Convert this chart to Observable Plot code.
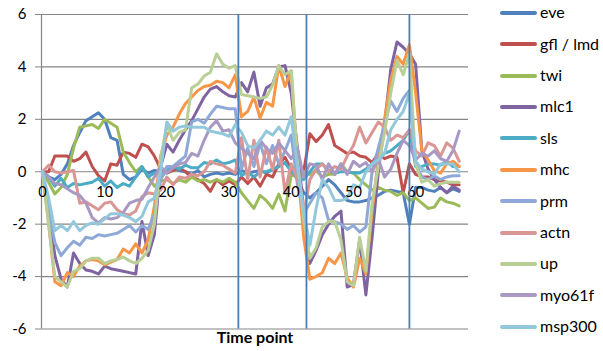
<!DOCTYPE html>
<html>
<head>
<meta charset="utf-8">
<script src="https://cdn.jsdelivr.net/npm/d3@7"></script>
<script src="https://cdn.jsdelivr.net/npm/@observablehq/plot@0.6"></script>
<style>
  html, body { margin: 0; padding: 0; background: #fff; }
  #wrap { position: relative; width: 603px; height: 351px; font-family: Lato, "Open Sans", sans-serif; }
  #legend { position: absolute; left: 0; top: 0; }
  .sw { position: absolute; left: 500px; width: 37px; height: 4px; border-radius: 2px; }
  .lt { position: absolute; left: 540px; font-size: 16px; line-height: 18px; color: #000; white-space: nowrap; }
</style>
</head>
<body>
<div id="wrap"><div id="legend"></div></div>
<script>
const seriesNames = ["eve", "gfl / lmd", "twi", "mlc1", "sls", "mhc", "prm", "actn", "up", "myo61f", "msp300"];
const seriesColors = ["#4F81BD", "#C0504D", "#9BBB59", "#8064A2", "#4BACC6", "#F79646", "#8EA9D8", "#D99694", "#B9CF96", "#A898C4", "#93C8DC"];

const timePoints = [0,1,2,3,4,5,6,7,8,9,10,11,12,13,14,15,16,17,18,19,20,21,22,23,24,25,26,27,28,29,30,31,32,33,34,35,36,37,38,39,40,41,42,43,44,45,46,47,48,49,50,51,52,53,54,55,56,57,58,59,60,61,62,63,64,65,66,67];
const xTickLabels = [0, 10, 20, 30, 40, 50, 60];
const yTicks = [-6, -4, -2, 0, 2, 4, 6];
const markerTimes = [31.5, 42.45, 59];

const eve = [0, -0.2, -0.3, -0.1, 0.3, 1.0, 1.5, 1.95, 2.1, 2.25, 2.0, 1.3, 1.2, -0.1, -0.3, -0.2, 0.1, -0.05, 0.05, 0.0,
 0.1, 0.15, 0.05, 0.0, -0.1, 0.05, -0.2, -0.1, -0.05, -0.1, -0.05, -0.1, 0.05, -0.05, 0.0, 0.05, -0.05, 0.1, 0.2, 0.35,
 0.1, -0.3, -0.8, -1.0, -0.8, -0.55, -0.3, -0.5, -0.8, -1.1, -1.15, -1.15, -1.1, -1.0, -0.9, -0.75, -0.7, -0.75, -0.8, -2.0,
 -0.6, -0.6, -0.7, -0.75, -0.6, -0.8, -0.65, -0.75];
const gflLmd = [0, 0.0, 0.6, 0.6, 0.6, 0.4, 0.5, 0.75, 0.2, -0.15, -0.35, 0.3, 0.25, 0.75, 0.7, 0.55, 1.05, 0.95, 0.6, 0.1,
 -0.05, 0.05, 0.15, 0.0, -0.2, -0.3, -0.45, -0.75, -0.3, -0.5, -0.35, -0.5, -0.2, -0.45, -0.2, -0.55, -0.1, -0.2, 0.3, 0.55,
 0.1, -0.1, 0.0, 1.45, 1.15, 1.4, 1.8, 1.0, 0.85, 0.7, 0.75, 0.6, 0.55, 0.35, 0.7, 0.5, 0.6, 0.55, -0.8, 0.3,
 -0.1, -0.2, -0.2, -0.3, -0.35, -0.4, -0.5, -0.5];
const twi = [0, -0.4, -0.85, -0.6, -0.1, 0.9, 1.7, 1.75, 1.8, 1.65, 2.0, 1.85, 1.7, 0.75, 0.35, 0.0, 0.2, -0.2, -0.55, -0.35,
 -0.3, -0.45, -0.3, -0.4, -0.2, -0.35, -0.3, -0.4, -0.3, -0.4, -0.25, -0.4, -0.8, -1.1, -1.4, -0.9, -1.1, -1.4, -0.85, -1.5,
 -0.1, -0.2, 0.0, -0.1, 0.05, -0.2, -0.1, -0.1, 0.3, 0.0, -0.05, -0.3, -0.5, -0.7, -0.6, -0.7, -0.75, -0.9, -0.8, -1.1,
 -1.0, -1.2, -1.4, -1.35, -1.0, -1.15, -1.2, -1.3];
const mlc1 = [0, -1.5, -3.2, -4.1, -4.4, -3.1, -3.5, -3.75, -3.8, -3.9, -3.6, -3.7, -3.75, -3.8, -3.85, -3.9, -1.9, -3.2, -2.4, 0.2,
 1.05, 0.75, 1.2, 1.6, 1.95, 2.4, 2.85, 3.15, 3.25, 3.05, 2.9, 2.85, 3.4, 3.05, 3.8, 2.5, 3.2, 3.35, 4.0, 4.05,
 3.0, 0.9, -1.5, -3.5, -3.0, -2.4, -2.0, -1.7, -1.5, -4.4, -4.3, -2.6, -4.7, -2.5, 0.0, 1.8, 3.9, 4.95, 4.75, 4.5,
 4.1, 0.8, 0.1, -0.3, -0.6, -0.8, -0.55, -0.7];
const sls = [0, -0.2, -0.55, -0.25, -0.6, -0.45, -0.5, -0.45, -0.4, -0.25, -0.55, -0.35, -0.6, -0.45, -0.55, -0.2, 0.2, -0.2, -0.05, -0.25,
 0.05, 0.2, 0.1, 0.25, 0.15, 0.15, 0.35, 0.3, 0.45, 0.3, 0.35, 0.45, -0.15, 0.0, -0.2, 0.0, 0.0, 0.1, 0.2, 0.35,
 0.0, -0.2, -0.3, 0.0, 0.3, 0.3, 0.05, -0.05, 0.0, 0.0, -0.05, -0.05, 0.1, 0.3, 0.55, 0.7, 0.8, 1.0, 1.2, 1.6,
 0.2, 0.2, 0.3, 0.3, 0.25, 0.4, 0.2, 0.2];
const mhc = [0, -2.0, -4.2, -4.35, -3.85, -4.0, -3.6, -3.4, -3.35, -3.4, -3.55, -3.45, -3.35, -2.95, -3.1, -2.75, -3.1, -2.6, -1.3, 0.6,
 1.4, 1.7, 2.2, 2.6, 2.85, 3.1, 3.25, 3.3, 3.45, 3.4, 3.2, 3.7, 2.1, 2.3, 2.85, 2.05, 2.65, 2.5, 4.05, 3.25,
 3.85, 0.3, -2.5, -4.1, -4.0, -3.85, -3.3, -3.5, -3.1, -4.05, -4.4, -3.3, -3.9, -1.5, 0.5, 2.0, 3.5, 4.4, 4.1, 4.85,
 3.0, 0.8, 0.45, 0.05, -0.05, 0.3, 0.4, 0.2];
const prm = [0, -1.5, -2.7, -3.2, -2.9, -2.65, -2.8, -2.5, -2.55, -2.4, -2.45, -2.4, -2.35, -2.2, -2.05, -2.3, -2.05, -2.2, -1.6, -0.3,
 0.2, 0.2, 0.4, 0.6, 1.9, 2.0, 1.85, 2.2, 2.5, 2.45, 2.4, 2.4, 0.1, 0.9, 0.2, 1.1, 0.3, 1.0, 0.3, 0.8,
 1.4, -0.5, -1.6, -1.2, -0.8, -1.0, -1.85, -1.9, -2.0, -2.2, -2.05, -2.3, -2.1, 0.0, 0.9, 1.8, 2.7, 2.3, 2.8, 3.1,
 0.3, -0.2, -0.3, -0.15, -0.3, -0.2, -0.15, -0.15];
const actn = [0, 0.25, 0.0, -0.05, 0.0, 0.05, -1.2, -1.15, -1.3, -1.45, -1.2, -1.15, -1.45, -1.6, -1.65, -1.5, -0.95, -0.8, -0.85, -0.7,
 -0.2, -0.5, -0.2, -0.25, -0.1, -0.15, 0.0, 0.4, 0.3, 0.25, 0.1, -0.05, 1.3, -0.3, 1.2, -0.2, 0.95, 0.1, 1.2, -0.8,
 0.3, -0.3, -1.6, -0.3, 0.1, 0.3, 0.0, 0.2, 0.1, 0.6, 1.0, 1.7, 1.1, 1.5, 1.9, 1.7, 1.2, 1.4, 1.3, 1.6,
 0.8, 0.6, 1.1, 1.0, 0.6, 1.1, 0.9, 0.4];
const up = [0, -2.0, -4.0, -4.2, -4.4, -3.8, -3.7, -3.4, -3.3, -3.3, -3.5, -3.4, -3.35, -3.25, -3.4, -3.5, -3.3, -3.0, -2.0, 0.5,
 1.8, 1.2, 1.5, 1.6, 3.2, 3.35, 3.65, 3.8, 4.5, 4.1, 3.95, 4.05, 2.95, 2.9, 2.85, 2.8, 2.85, 3.3, 4.05, 3.7,
 3.85, 0.5, -1.8, -3.3, -2.9, -2.1, -1.9, -1.9, -2.6, -4.2, -4.35, -2.5, -3.8, -1.2, 0.2, 1.5, 3.0, 4.25, 3.7, 4.5,
 0.3, -0.4, -0.3, -0.55, -0.45, -0.4, -0.4, -0.4];
const myo61f = [0, -0.2, -0.45, -0.5, -0.65, -0.8, -0.9, -1.2, -1.75, -1.95, -1.75, -1.8, -1.75, -1.55, -1.2, -1.1, -1.05, -0.6, -0.2, 0.2,
 -0.05, 0.15, 0.3, 0.35, 0.7, 0.6, 1.2, 1.7, 1.95, 1.55, 1.6, 1.1, 0.9, 0.7, 0.5, 1.2, 0.9, 0.7, 1.1, 0.8,
 0.5, 0.9, -0.2, 0.3, 0.25, -0.3, 0.3, -0.1, 0.3, -0.1, 0.4, 0.2, 0.35, 0.0, 0.5, -0.2, 0.1, 0.7, 1.2, 1.0,
 0.45, 0.7, 0.6, 0.8, 0.5, 0.4, 0.8, 1.55];
const msp300 = [0, -1.0, -2.25, -2.05, -2.25, -1.9, -2.25, -2.05, -1.95, -2.0, -1.8, -1.6, -1.6, -1.65, -1.75, -1.9, -1.7, -1.15, -1.0, 0.0,
 1.9, 1.55, 1.7, 1.75, 1.7, 1.7, 1.7, 1.55, 1.5, 1.45, 1.35, 1.8, 1.5, 1.0, 0.9, 1.2, 1.55, 1.4, 1.7, 1.4,
 2.1, 0.2, -1.5, -2.8, -1.4, -0.3, -0.6, -1.1, -1.1, -1.0, -0.5, -0.6, 0.0, 0.3, 0.45, 0.7, 1.6, 2.0, 2.3, 3.0,
 0.4, 0.1, 0.0, -0.1, 0.3, 0.3, 0.3, 0.0];

const seriesValues = [eve, gflLmd, twi, mlc1, sls, mhc, prm, actn, up, myo61f, msp300];
const rows = [];
seriesNames.forEach((name, i) => {
  timePoints.forEach((t, j) => rows.push({series: name, t, v: seriesValues[i][j]}));
});

const font = "Lato, 'Open Sans', sans-serif";
const chart = Plot.plot({
  width: 603,
  height: 351,
  marginLeft: 41,
  marginRight: 135,
  marginTop: 14,
  marginBottom: 22.5,
  style: {fontFamily: font, fontSize: "15px", color: "#000", background: "#fff"},
  x: {domain: [-0.15, 68.5], axis: null},
  y: {domain: [-6, 6], axis: null},
  color: {domain: seriesNames, range: seriesColors},
  marks: [
    Plot.ruleY(yTicks, {stroke: "#868686", strokeWidth: 1.2}),
    Plot.ruleX([-0.15], {stroke: "#868686", strokeWidth: 1.2}),
    Plot.axisY({ticks: yTicks, tickSize: 6, tickPadding: 9, tickFormat: d => String(d), stroke: "#868686", label: null, fontSize: 15}),
    Plot.line(rows, {x: "t", y: "v", z: "series", stroke: "series", strokeWidth: 3, strokeLinejoin: "round", strokeLinecap: "round"}),
    Plot.text(xTickLabels, {x: d => d, y: 0, dy: 21, text: d => String(d), fontSize: 14.5, fill: "#000"}),
    Plot.ruleX(markerTimes, {stroke: "#4A7EBB", strokeWidth: 1.8}),
    Plot.text(["Time point"], {frameAnchor: "bottom", dy: 14, fontWeight: "bold", fontSize: 16, fill: "#000"})
  ]
});
document.getElementById("wrap").prepend(chart);

const legend = document.getElementById("legend");
seriesNames.forEach((name, i) => {
  const y = 12.7 + i * 31.4;
  const sw = document.createElement("div");
  sw.className = "sw";
  sw.style.top = (y - 2) + "px";
  sw.style.background = seriesColors[i];
  legend.appendChild(sw);
  const lt = document.createElement("div");
  lt.className = "lt";
  lt.style.top = (y - 9.5) + "px";
  lt.textContent = name;
  legend.appendChild(lt);
});
</script>
</body>
</html>
